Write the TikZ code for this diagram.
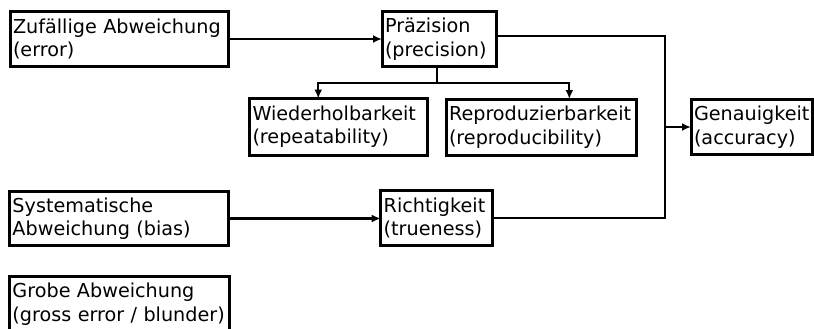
\documentclass[tikz,border=0pt]{standalone}
\usepackage{fontspec}
\setmainfont{DejaVu Sans}
\usetikzlibrary{arrows.meta}
\begin{document}
\begin{tikzpicture}[x=1pt,y=-1pt,
  box/.style={draw, line width=3pt, anchor=north west, outer sep=0pt,
    inner xsep=3pt, inner ysep=0pt, align=left,
    font=\fontsize{19.2}{23.5}\selectfont},
  conn/.style={line width=2.2pt},
  arr/.style={conn, -{Latex[length=9pt,width=8pt]}}]
\useasboundingbox (0,0) rectangle (814,329);
\node[box, minimum width=218.5pt, minimum height=55pt, text width=212.5pt] (z) at (10,11.5) {Zufällige Abweichung\\(error)};
\node[box, minimum width=114.5pt, minimum height=55pt, text width=108.5pt] (p) at (382,11.5) {Präzision\\(precision)};
\node[box, minimum width=177.5pt, minimum height=56.5pt, text width=171.5pt] (w) at (249.5,98.5) {Wiederholbarkeit\\(repeatability)};
\node[box, minimum width=190.7pt, minimum height=56pt, text width=184.7pt] (r) at (446,99) {Reproduzierbarkeit\\(reproducibility)};
\node[box, minimum width=121.5pt, minimum height=55pt, text width=115.5pt] (g) at (691,99.5) {Genauigkeit\\(accuracy)};
\node[box, minimum width=218.5pt, minimum height=54pt, text width=212.5pt] (s) at (9.5,191.5) {Systematische\\Abweichung (bias)};
\node[box, minimum width=112pt, minimum height=55.7pt, text width=106pt] (t) at (380.7,190) {Richtigkeit\\(trueness)};
\node[box, minimum width=219.5pt, minimum height=55pt, text width=213.5pt] (gb) at (9.5,276.7) {Grobe Abweichung\\(gross error / blunder)};
\coordinate (j) at (665,127);
\coordinate (k) at (437,83);
\draw[arr] (z) -- (p);
\draw[conn] ([yshift=3pt]p.east) -| (j) |- (t.east);
\draw[arr] (j) -- (g.west);
\draw[arr] (s.east) -- (s.east -| t.west);
\draw[conn] (k |- p.south) -- (k);
\draw[arr] (k) -| ([xshift=-20pt]w.north);
\draw[arr] (k) -| ([xshift=28pt]r.north);
\end{tikzpicture}
\end{document}
